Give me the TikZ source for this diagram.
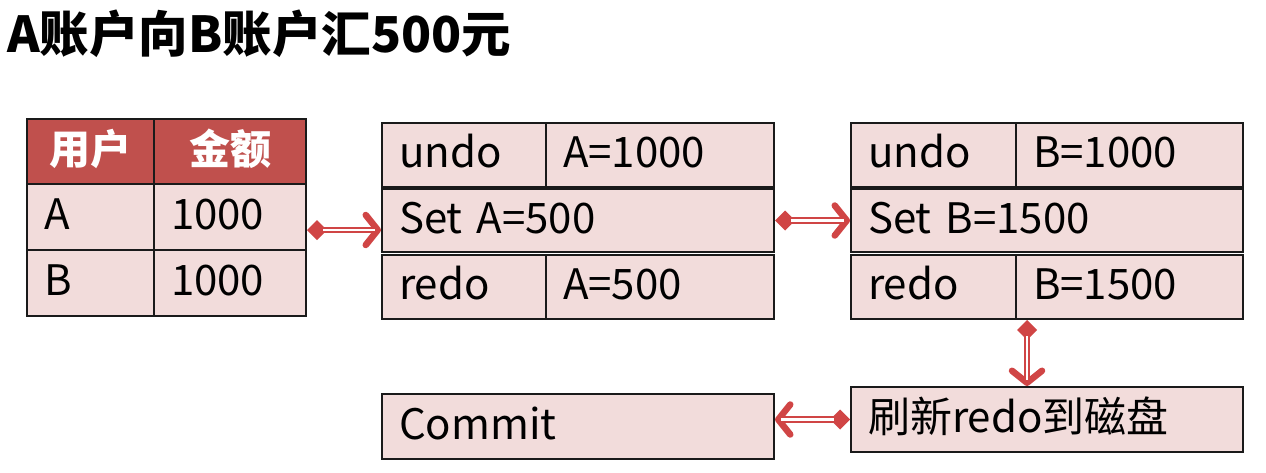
\documentclass[tikz,border=0pt]{standalone}
\usepackage{fontspec}
\setmainfont{Noto Sans CJK SC}
\usetikzlibrary{arrows.meta,calc}
\definecolor{hdr}{HTML}{C0504D}
\definecolor{cellfill}{HTML}{F2DCDB}
\definecolor{arrowred}{HTML}{D04545}
\definecolor{edge}{HTML}{1A1A1A}
\tikzset{
  cell/.style 2 args={draw=edge, line width=2pt, fill=cellfill, anchor=north west,
    inner xsep=17pt, inner ysep=0pt, text width=#1-34pt, minimum width=#1, minimum height=#2,
    font=\fontsize{42}{42}\selectfont, text height=31pt, text depth=6pt, align=left},
  hcell/.style 2 args={draw=edge, line width=2pt, fill=hdr, text=white, anchor=north west,
    inner sep=0pt, minimum width=#1, minimum height=#2,
    font=\fontsize{41}{41}\selectfont\bfseries, text height=31pt, text depth=6pt, align=center},
  arrowline/.style={draw=arrowred, line width=6.5pt,
    {Diamond[length=20pt,width=20pt]}-{Straight Barb[length=12pt,width=30pt,round]}},
  innerline/.style={draw=white, line width=2.5pt, shorten <=16pt, shorten >=6pt},
  titlefont/.style={font=\fontsize{49.5}{49.5}\selectfont\bfseries, inner sep=0pt, anchor=north west}
}
\newcommand\conn[2]{\draw[arrowline] #1 -- #2; \draw[innerline] #1 -- #2;}
\begin{document}
\begin{tikzpicture}[x=1pt,y=-1pt]
\useasboundingbox[fill=white] (0,0) rectangle (1266,472);
\node[titlefont] (title) at (7,10) {A账户向B账户汇500元};
% table
\node[hcell={127pt}{65pt}] (tU1) at (26,118) {用户};
\node[hcell={152pt}{65pt}] (tU2) at (153,118) {金额};
\node[cell={127pt}{66pt}] (tA1) at (26,183) {A};
\node[cell={152pt}{66pt}] (tA2) at (153,183) {1000};
\node[cell={127pt}{66pt}] (tB1) at (26,249) {B};
\node[cell={152pt}{66pt}] (tB2) at (153,249) {1000};
% group A
\node[cell={164pt}{64pt}] (uA1) at (381,122) {undo};
\node[cell={228pt}{64pt}] (uA2) at (545,122) {A=1000};
\node[cell={392pt}{63pt}] (sA) at (381,188) {Set A=500};
\node[cell={164pt}{64pt}] (rA1) at (381,254) {redo};
\node[cell={228pt}{64pt}] (rA2) at (545,254) {A=500};
% group B
\node[cell={165pt}{64pt}] (uB1) at (850,122) {undo};
\node[cell={227pt}{64pt}] (uB2) at (1015,122) {B=1000};
\node[cell={392pt}{63pt}] (sB) at (850,188) {Set B=1500};
\node[cell={165pt}{64pt}] (rB1) at (850,254) {redo};
\node[cell={227pt}{64pt}] (rB2) at (1015,254) {B=1500};
% bottom
\node[cell={392pt}{65pt}] (commit) at (381,393) {Commit};
\node[cell={392pt}{65pt}] (flush) at (850,386) {刷新redo到磁盘};
% connectors
\conn{([yshift=-13pt]tA2.east)}{([yshift=-13pt]tA2.east -| sA.west)}
\conn{(sA.east)}{(sB.west)}
\conn{([xshift=12pt]rB2.south west)}{([xshift=12pt]rB2.south west |- flush.north)}
\conn{(flush.west)}{(flush.west -| commit.east)}
\end{tikzpicture}
\end{document}
